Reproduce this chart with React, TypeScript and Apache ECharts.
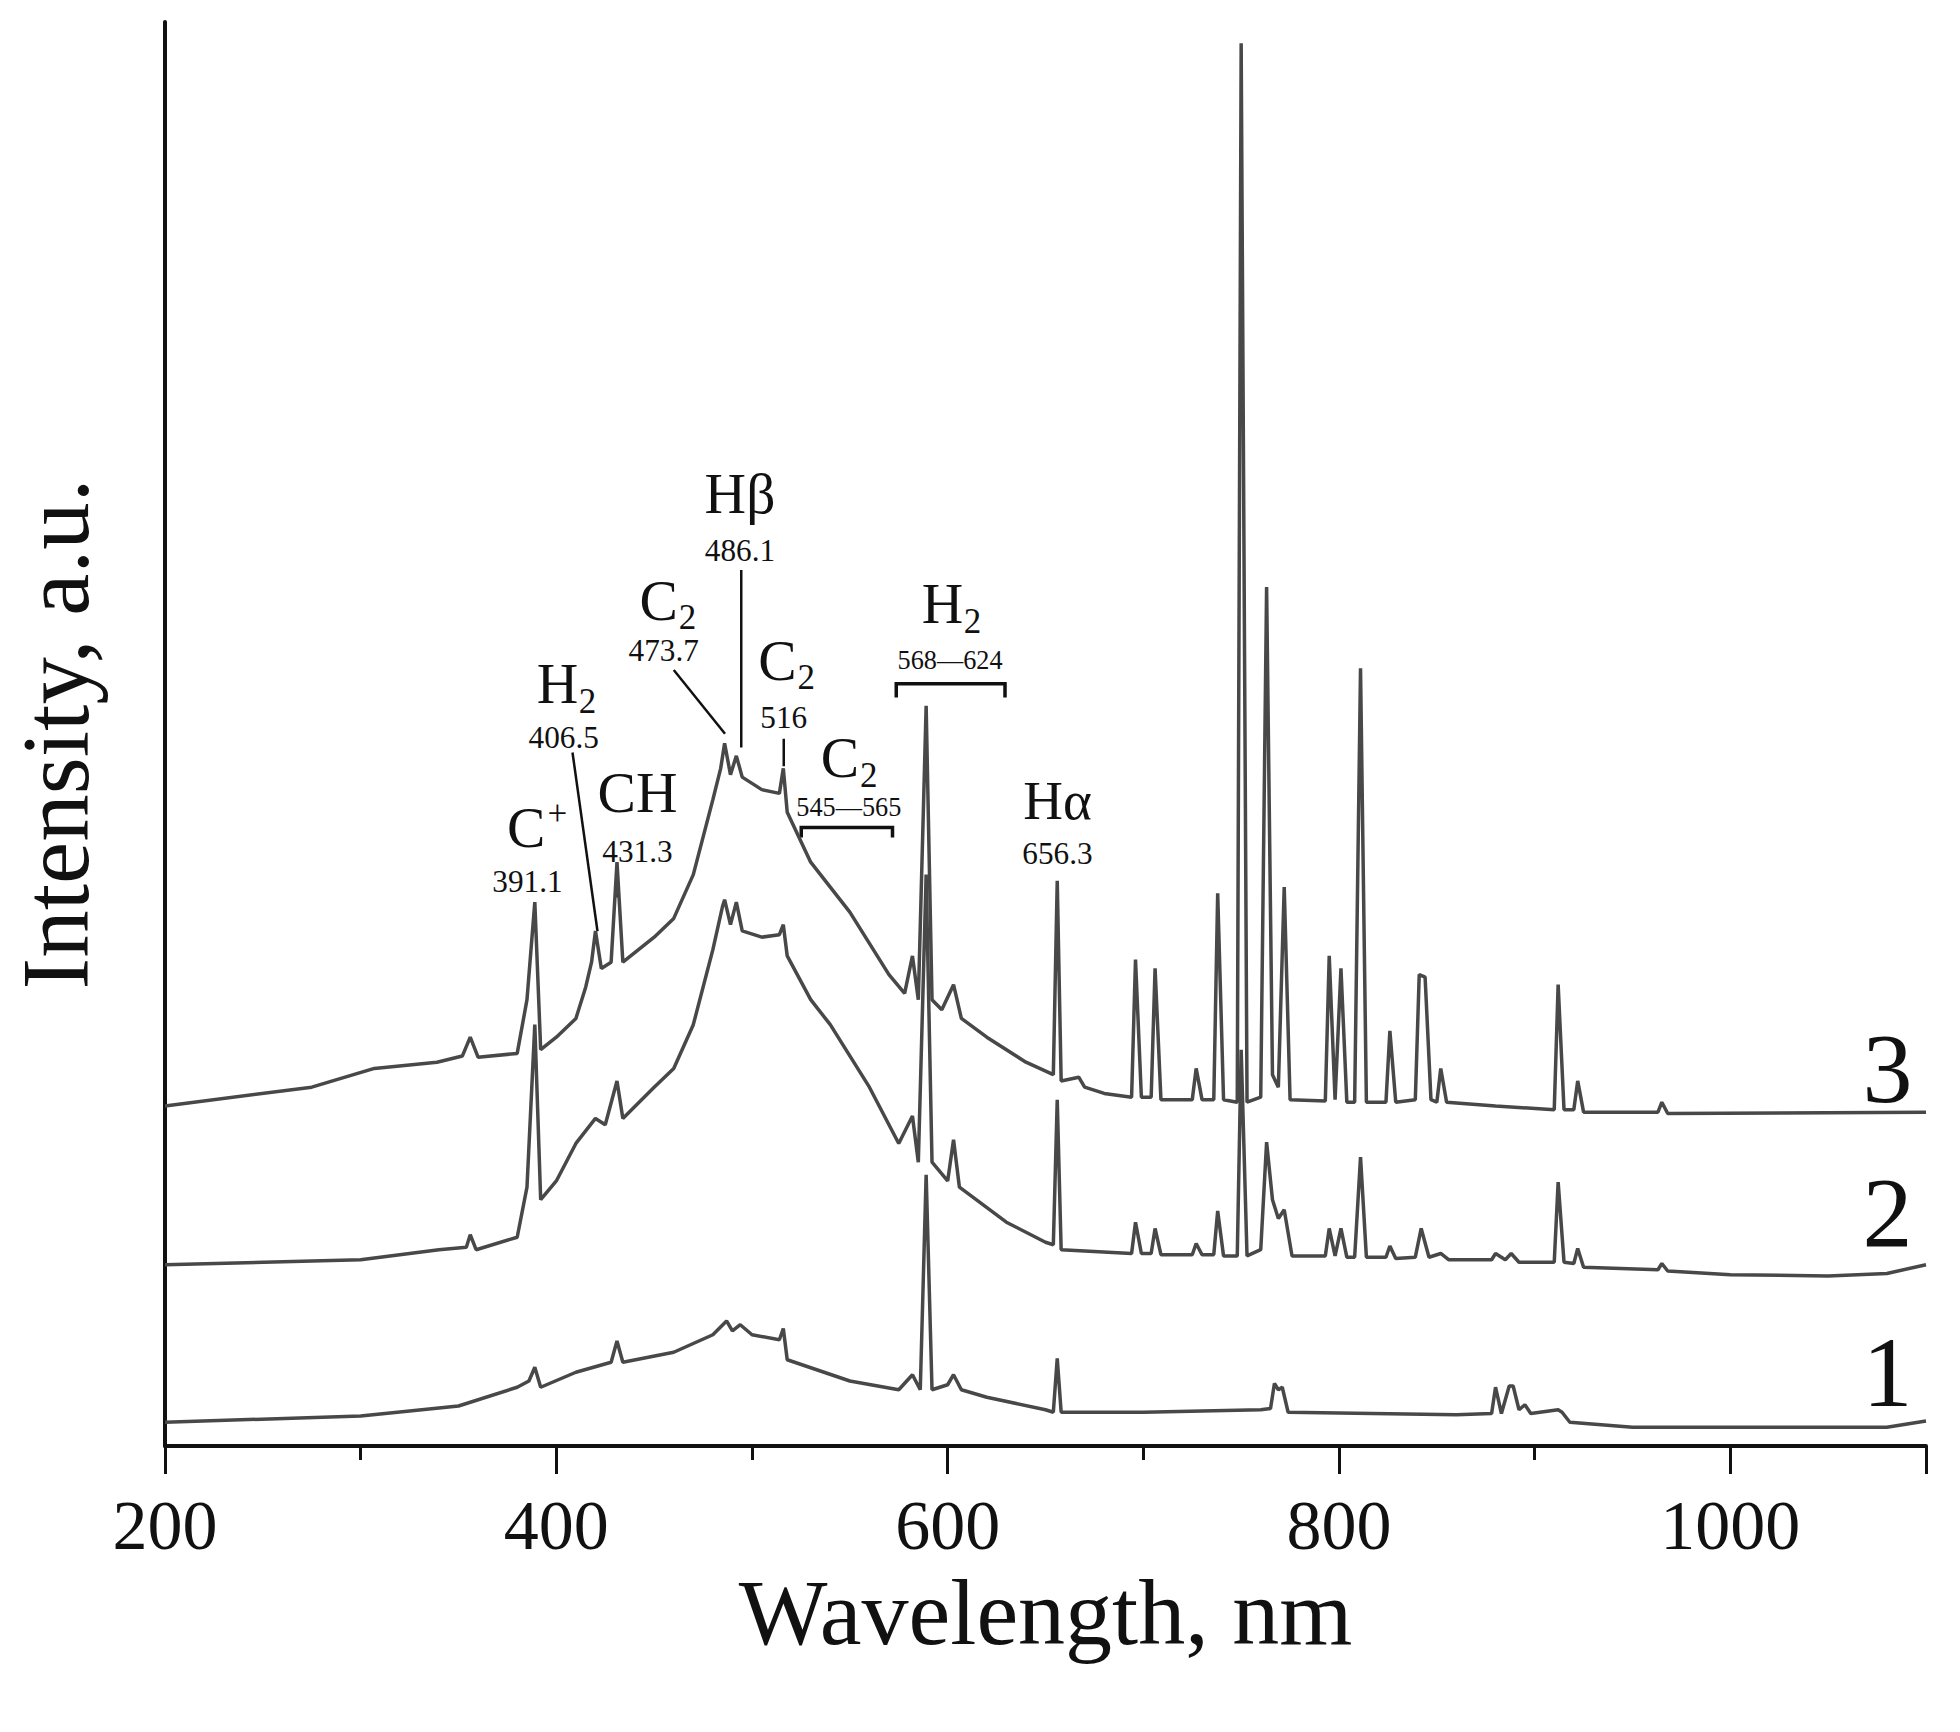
import { useEffect, useRef } from 'react'
import * as echarts from 'echarts'

// spectrum 3 (top)
const wl3 = [200, 275, 307, 339, 352, 356, 360, 380, 385, 389, 392, 400, 410, 415, 418, 420, 423, 428, 431, 434, 450, 460, 470, 480, 484, 486, 489, 492, 495, 505, 514, 516, 518, 530, 550, 570, 578, 582, 585, 589, 592, 597, 603, 607, 620, 640, 654, 656, 658, 667, 670, 680, 694, 696, 699, 704, 706, 709, 725, 727, 730, 736, 738, 741, 748, 750, 753, 760, 763, 766, 769, 772, 775, 793, 795, 798, 801, 804, 808, 811, 814, 824, 826, 829, 839, 841, 844, 847, 850, 852, 855, 880, 910, 912, 915, 920, 922, 925, 963, 965, 968, 1100]
const int3 = [272, 287, 302, 307, 312, 327, 311, 314, 357, 435, 317, 327, 342, 367, 387, 412, 382, 387, 467, 387, 407, 422, 457, 517, 542, 562, 537, 552, 535, 525, 522, 542, 507, 467, 427, 377, 362, 392, 357, 592, 357, 349, 369, 342, 327, 307, 297, 452, 292, 295, 287, 282, 279, 389, 279, 279, 382, 277, 277, 302, 277, 277, 442, 277, 275, 1122, 275, 279, 687, 297, 287, 447, 277, 276, 392, 277, 382, 275, 275, 622, 275, 275, 332, 275, 277, 377, 375, 277, 275, 302, 275, 272, 269, 369, 269, 269, 292, 267, 267, 275, 266, 267]

// spectrum 2 (middle)
const wl2 = [200, 300, 340, 354, 356, 359, 380, 385, 389, 392, 400, 410, 415, 420, 425, 431, 434, 450, 460, 470, 480, 485, 486, 489, 492, 495, 505, 514, 516, 518, 530, 540, 560, 575, 582, 585, 589, 592, 600, 603, 606, 630, 650, 654, 656, 658, 694, 696, 699, 704, 706, 709, 725, 727, 730, 736, 738, 741, 748, 750, 753, 760, 763, 766, 769, 772, 776, 793, 795, 798, 801, 804, 808, 811, 814, 824, 826, 829, 839, 842, 846, 852, 856, 878, 880, 885, 888, 892, 910, 912, 915, 920, 922, 925, 963, 965, 968, 1000, 1050, 1080, 1100]
const int2 = [145, 149, 157, 159, 169, 157, 167, 207, 337, 197, 212, 242, 252, 262, 257, 292, 262, 287, 302, 337, 397, 432, 437, 417, 435, 412, 407, 409, 417, 392, 357, 337, 287, 242, 264, 227, 457, 227, 212, 245, 207, 179, 163, 161, 277, 157, 154, 179, 154, 154, 174, 153, 153, 162, 153, 153, 188, 152, 152, 317, 152, 157, 243, 197, 182, 189, 152, 152, 174, 152, 174, 151, 151, 231, 151, 151, 160, 150, 151, 174, 151, 154, 149, 149, 154, 149, 154, 147, 147, 211, 147, 146, 158, 143, 141, 146, 140, 137, 136, 138, 145]

// spectrum 1 (bottom)
const wl1 = [200, 300, 350, 380, 386, 389, 392, 410, 428, 431, 434, 460, 480, 487, 490, 494, 500, 514, 516, 518, 550, 575, 582, 586, 589, 592, 600, 603, 607, 620, 650, 654, 656, 658, 700, 760, 765, 767, 769, 771, 774, 860, 878, 880, 883, 887, 889, 892, 895, 898, 912, 914, 918, 950, 1000, 1080, 1100]
const int1 = [19, 24, 32, 47, 52, 63, 47, 59, 67, 84, 67, 75, 89, 100, 92, 97, 89, 85, 94, 69, 52, 45, 57, 45, 217, 45, 49, 57, 45, 39, 29, 27, 70, 27, 27, 29, 30, 50, 45, 47, 27, 25, 26, 47, 26, 48, 48, 29, 33, 26, 29, 27, 19, 15, 15, 15, 20]

const xTicks = [200, 400, 600, 800, 1000]
const curveNames = ['3', '2', '1']

const S = 1.25
const FONT = '"Liberation Serif", "Times New Roman", serif'
const INK = '#111'

function txt(x: number, y: number, text: string, size: number, align = 'center') {
  return {
    type: 'text',
    x: x * S,
    y: y * S,
    style: { text, font: `${size * S}px ${FONT}`, fill: INK, align, verticalAlign: 'middle' },
  }
}
function seg(x1: number, y1: number, x2: number, y2: number, w = 2.5) {
  return {
    type: 'line',
    shape: { x1: x1 * S, y1: y1 * S, x2: x2 * S, y2: y2 * S },
    style: { stroke: INK, lineWidth: w },
  }
}
function bracket(x1: number, x2: number, y: number, d: number) {
  return {
    type: 'polyline',
    shape: { points: [[x1 * S, (y + d) * S], [x1 * S, y * S], [x2 * S, y * S], [x2 * S, (y + d) * S]] },
    style: { stroke: INK, lineWidth: 3.5, fill: 'none' },
  }
}

function App() {
  const ref = useRef<HTMLDivElement>(null)

  useEffect(() => {
    document.body.style.margin = '0'
    if (!ref.current) return
    const chart = echarts.init(ref.current, null, { renderer: 'svg' })

    const mk = (wl: number[], v: number[], name: string) => ({
      name,
      type: 'line',
      data: wl.map((w, i) => [w, v[i]]),
      showSymbol: false,
      lineStyle: { color: '#484848', width: 3.5 },
    })

    const labels = [
      txt(421, 662, 'C', 46), txt(438, 651, '+', 28, 'left'), txt(422, 705, '391.1', 25),
      txt(446, 547, 'H', 46), txt(463, 561, '2', 28, 'left'), txt(451, 590, '406.5', 25),
      txt(510, 634, 'CH', 46), txt(510, 681, '431.3', 25),
      txt(527, 480, 'C', 46), txt(543, 494, '2', 28, 'left'), txt(531, 520, '473.7', 25),
      txt(592, 395, 'Hβ', 46), txt(592, 440, '486.1', 25),
      txt(622, 528, 'C', 46), txt(638, 542, '2', 28, 'left'), txt(627, 574, '516', 25),
      txt(672, 606, 'C', 46), txt(688, 620, '2', 28, 'left'), txt(679, 646, '545—565', 21),
      txt(754, 483, 'H', 46), txt(771, 497, '2', 28, 'left'), txt(760, 528, '568—624', 21),
      txt(846, 640, 'Hα', 44), txt(846, 683, '656.3', 25),
      ...curveNames.map((n, i) => txt(1510, [855, 970, 1098][i], n, 80)),
      seg(458, 602, 478, 745), seg(494, 698, 494, 718), seg(539, 536, 580, 587),
      seg(593, 456, 593, 598), seg(627, 591, 627, 613),
      bracket(641, 714, 662, 8), bracket(717, 804, 547, 11),
    ]

    chart.setOption({
      animation: false,
      backgroundColor: '#fff',
      grid: { left: 165, right: 34, top: 22, bottom: 286, outerBoundsMode: 'none' },
      xAxis: {
        type: 'value',
        min: 200,
        max: 1100,
        interval: 200,
        name: 'Wavelength, nm',
        nameLocation: 'middle',
        nameGap: 112,
        nameTextStyle: { fontFamily: FONT, fontSize: 94, color: INK },
        axisLine: { lineStyle: { color: INK, width: 4 } },
        axisTick: { length: 28, lineStyle: { color: INK, width: 3 } },
        minorTick: { show: true, splitNumber: 2, length: 14, lineStyle: { color: INK, width: 3 } },
        axisLabel: {
          fontFamily: FONT, fontSize: 70, color: INK, margin: 44,
          showMaxLabel: false,
          formatter: (v: number) => (xTicks.includes(v) ? String(v) : ''),
        },
        splitLine: { show: false },
      },
      yAxis: {
        type: 'value',
        min: 0,
        max: 1139,
        name: 'Intensity, a.u.',
        nameLocation: 'middle',
        nameGap: 62,
        nameTextStyle: { fontFamily: FONT, fontSize: 95, color: INK },
        axisLine: { show: true, lineStyle: { color: INK, width: 4 } },
        axisTick: { show: false },
        axisLabel: { show: false },
        splitLine: { show: false },
      },
      series: [mk(wl1, int1, '1'), mk(wl2, int2, '2'), mk(wl3, int3, '3')],
      graphic: labels,
    })
    return () => chart.dispose()
  }, [])

  return <div ref={ref} style={{ width: 1960, height: 1732 }} />
}

export default App
